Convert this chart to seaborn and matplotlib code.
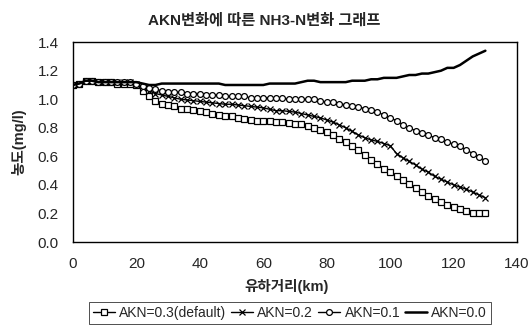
import matplotlib
matplotlib.use("Agg")
import matplotlib.pyplot as plt
import seaborn as sns
import pandas as pd

km = [0, 2, 4, 6, 8, 10, 12, 14, 16, 18, 20, 22, 24, 26, 28, 30, 32, 34, 36, 38,
      40, 42, 44, 46, 48, 50, 52, 54, 56, 58, 60, 62, 64, 66, 68, 70, 72, 74, 76, 78,
      80, 82, 84, 86, 88, 90, 92, 94, 96, 98, 100, 102, 104, 106, 108, 110, 112, 114,
      116, 118, 120, 122, 124, 126, 128, 130]

akn_03 = [1.10, 1.11, 1.13, 1.13, 1.12, 1.12, 1.12, 1.11, 1.11, 1.11, 1.10, 1.06, 1.02, 0.99,
          0.97, 0.96, 0.95, 0.935, 0.93, 0.925, 0.92, 0.91, 0.90, 0.89, 0.885, 0.88, 0.87,
          0.865, 0.855, 0.85, 0.85, 0.845, 0.84, 0.84, 0.835, 0.83, 0.825, 0.815, 0.80,
          0.785, 0.77, 0.75, 0.725, 0.70, 0.675, 0.645, 0.61, 0.575, 0.545, 0.515, 0.49,
          0.46, 0.435, 0.405, 0.375, 0.35, 0.32, 0.30, 0.28, 0.26, 0.245, 0.23, 0.215,
          0.205, 0.20, 0.20]

akn_02 = [1.10, 1.11, 1.13, 1.13, 1.12, 1.12, 1.12, 1.12, 1.12, 1.12, 1.11, 1.08, 1.06, 1.04,
          1.03, 1.02, 1.01, 1.00, 0.995, 0.99, 0.985, 0.98, 0.975, 0.97, 0.965, 0.965, 0.96,
          0.955, 0.95, 0.945, 0.94, 0.93, 0.92, 0.92, 0.915, 0.91, 0.90, 0.89, 0.88, 0.87,
          0.855, 0.84, 0.82, 0.80, 0.775, 0.75, 0.73, 0.715, 0.705, 0.69, 0.675, 0.62, 0.59,
          0.565, 0.54, 0.51, 0.49, 0.46, 0.44, 0.42, 0.40, 0.385, 0.37, 0.35, 0.33, 0.31]

akn_01 = [1.10, 1.11, 1.13, 1.13, 1.12, 1.12, 1.12, 1.12, 1.12, 1.12, 1.11, 1.09, 1.08, 1.07,
          1.06, 1.05, 1.05, 1.05, 1.04, 1.04, 1.04, 1.03, 1.03, 1.03, 1.02, 1.02, 1.02, 1.02,
          1.01, 1.01, 1.01, 1.01, 1.01, 1.01, 1.00, 1.00, 1.00, 1.00, 1.00, 0.99, 0.98, 0.98,
          0.97, 0.96, 0.95, 0.945, 0.935, 0.925, 0.91, 0.89, 0.87, 0.85, 0.82, 0.80, 0.78,
          0.765, 0.75, 0.73, 0.72, 0.70, 0.685, 0.67, 0.645, 0.62, 0.595, 0.57]

akn_00 = [1.10, 1.11, 1.13, 1.13, 1.12, 1.12, 1.12, 1.12, 1.12, 1.12, 1.12, 1.11, 1.10, 1.10,
          1.11, 1.11, 1.11, 1.11, 1.11, 1.11, 1.11, 1.11, 1.11, 1.11, 1.10, 1.10, 1.10, 1.10,
          1.10, 1.10, 1.10, 1.11, 1.11, 1.11, 1.11, 1.11, 1.12, 1.13, 1.13, 1.12, 1.12, 1.12,
          1.12, 1.12, 1.13, 1.13, 1.13, 1.14, 1.14, 1.15, 1.15, 1.15, 1.16, 1.17, 1.17, 1.18,
          1.18, 1.19, 1.20, 1.22, 1.22, 1.24, 1.27, 1.30, 1.32, 1.34]

labels = ["AKN=0.3(default)", "AKN=0.2", "AKN=0.1", "AKN=0.0"]
xticks = [0, 20, 40, 60, 80, 100, 120, 140]
yticks = [0.0, 0.2, 0.4, 0.6, 0.8, 1.0, 1.2, 1.4]

sns.set_style("white")
plt.rcParams['font.family'] = ['Liberation Sans', 'Noto Sans CJK KR', 'DejaVu Sans']

fig = plt.figure(figsize=(5.32, 3.32), dpi=100)
ax = fig.add_axes([0.137, 0.271, 0.835, 0.602])

series = [akn_03, akn_02, akn_01, akn_00]
styles = [
    dict(marker='s', markersize=4.2, markerfacecolor='white', markeredgecolor='black',
         markeredgewidth=0.9, linewidth=1.0),
    dict(marker='x', markersize=5.0, markeredgecolor='black', markeredgewidth=0.9,
         linewidth=1.0),
    dict(marker='o', markersize=4.2, markerfacecolor='white', markeredgecolor='black',
         markeredgewidth=0.9, linewidth=1.0),
    dict(marker=None, linewidth=1.8),
]
for vals, lab, st in zip(series, labels, styles):
    df = pd.DataFrame({"km": km, "val": vals})
    sns.lineplot(data=df, x="km", y="val", ax=ax, color='black', label=lab, **st)

ax.set_xlim(0, 140)
ax.set_ylim(0, 1.4)
ax.set_xticks(xticks)
ax.set_yticks(yticks)
ax.set_xticklabels([str(t) for t in xticks])
ax.set_yticklabels([f"{t:.1f}" for t in yticks])
ax.tick_params(axis='both', labelsize=11, length=0, pad=10)
ax.tick_params(axis='x', pad=11)
for s in ax.spines.values():
    s.set_color('black')
    s.set_linewidth(1.0)
    s.set_visible(True)

ax.set_xlabel("유하거리(km)", fontsize=10.5, fontweight='bold', labelpad=3)
ax.xaxis.set_label_coords(0.48, -0.185)
ax.set_ylabel("농도(mg/l)", fontsize=10.5, fontweight='bold', labelpad=8)
fig.text(0.497, 0.938, "AKN변화에 따른 NH3-N변화 그래프", fontsize=11, fontweight='bold',
         ha='center', va='center')

ax.get_legend().remove()
handles, labs = ax.get_legend_handles_labels()
leg = fig.legend(handles, labs, loc='center', bbox_to_anchor=(0.545, 0.058), ncol=4,
                 fontsize=10, frameon=True, handlelength=1.6, handletextpad=0.3,
                 columnspacing=0.35, borderpad=0.3, fancybox=False)
leg.get_frame().set_edgecolor('black')
leg.get_frame().set_linewidth(0.6)

fig.savefig("out.png", dpi=100)
